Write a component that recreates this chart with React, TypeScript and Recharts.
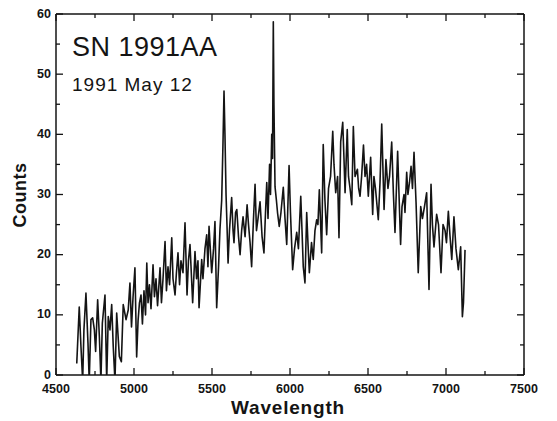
import { Line, LineChart, XAxis, YAxis } from 'recharts';

// Spectrum of SN 1991AA (wavelength in Å, counts).
// Dips that run below the axis in the original are kept slightly negative and clipped.
const wavelengths = [
  4633, 4649, 4660, 4671, 4679, 4692, 4705, 4713, 4724, 4735, 4746, 4754, 4767, 4778, 4788, 4797,
  4814, 4825, 4835, 4846, 4857, 4867, 4878, 4889, 4906, 4919, 4931, 4949, 4963, 4974, 4984, 4994,
  5006, 5017, 5026, 5035, 5045, 5054, 5064, 5074, 5082, 5090, 5099, 5109, 5122, 5131, 5141, 5151,
  5167, 5176, 5186, 5199, 5208, 5218, 5228, 5242, 5250, 5263, 5272, 5282, 5292, 5301, 5314, 5327,
  5340, 5349, 5359, 5376, 5391, 5401, 5410, 5417, 5434, 5442, 5455, 5466, 5474, 5481, 5498, 5510,
  5519, 5530, 5542, 5551, 5562, 5570, 5577, 5583, 5590, 5596, 5603, 5612, 5626, 5635, 5641, 5651,
  5659, 5670, 5680, 5690, 5699, 5712, 5725, 5734, 5744, 5754, 5766, 5776, 5785, 5795, 5808, 5821,
  5833, 5843, 5851, 5859, 5869, 5875, 5883, 5888, 5893, 5897, 5904, 5913, 5920, 5931, 5942, 5957,
  5968, 5979, 5994, 6003, 6017, 6029, 6043, 6054, 6069, 6077, 6085, 6096, 6107, 6115, 6124, 6138,
  6149, 6160, 6171, 6179, 6188, 6195, 6203, 6213, 6224, 6235, 6247, 6260, 6274, 6282, 6293, 6305,
  6314, 6325, 6338, 6346, 6353, 6367, 6375, 6385, 6396, 6406, 6417, 6432, 6440, 6449, 6459, 6471,
  6481, 6491, 6502, 6517, 6530, 6538, 6548, 6566, 6577, 6588, 6603, 6615, 6628, 6638, 6652, 6663,
  6673, 6690, 6709, 6718, 6731, 6737, 6748, 6756, 6766, 6776, 6785, 6795, 6808, 6822, 6838, 6849,
  6862, 6876, 6891, 6904, 6913, 6923, 6940, 6952, 6968, 6981, 6994, 7003, 7015, 7026, 7037, 7051,
  7064, 7079, 7094, 7105, 7112, 7122,
];

const counts = [
  1.9, 11.3, 4.7, -1, 7.5, 13.6, 5.3, -1, 9.2, 9.5, 7.5, 3.9, 12.5, 6.4, -1, 8.6,
  13.3, -1, 9.7, 7.5, 11.7, 4.7, -1, 10.3, 3.1, 2.2, 11.7, 9.2, 10.8, 15.3, 8, 13,
  17.8, 3, 9, 12, 13.3, 8.5, 14, 10, 18.6, 12, 15, 11, 18.3, 13, 16, 11.5,
  17.8, 12, 16, 22.2, 14, 18, 15, 22.8, 16, 13.3, 17, 20.3, 15, 19, 17, 25.3,
  13.3, 19, 21.7, 12, 20.5, 16, 19, 11.2, 19.2, 16, 21, 23.3, 18, 24.7, 17, 21,
  25.5, 11.2, 18, 24.2, 29, 38, 47.2, 40, 30, 25, 18.6, 24, 29.5, 24, 22, 27,
  27.5, 23, 20, 24, 26.3, 23, 28.3, 25, 22, 18, 26, 31.7, 24, 26, 28.8, 23,
  20.3, 27, 32, 26, 35, 30, 40, 36, 58.7, 45, 31.3, 29, 27, 24.7, 27, 31.2,
  26, 21.7, 34.8, 27, 17.5, 21, 23.7, 21, 29.7, 24, 18, 15.3, 27, 22, 17, 22,
  19.2, 24, 25.8, 25, 30.8, 26, 20.3, 38.3, 29, 23.3, 31, 33, 40.5, 35, 30.3, 33,
  22.8, 38.8, 42, 36, 30.3, 40.8, 33, 31, 28.3, 41.3, 33, 34.2, 31, 29.7, 33, 38.2,
  33, 35, 29.7, 36.2, 26.7, 33, 31, 25.8, 32, 41.7, 27.5, 35.8, 31, 33, 38.7, 30,
  23.7, 37.2, 21.7, 28, 30, 27, 33.7, 30, 32, 34.7, 31, 37, 28.7, 17, 28, 26,
  28, 30.3, 14.2, 31.7, 25, 21.3, 26.7, 25, 17, 25, 24, 22, 27.2, 23, 19.2, 26.3,
  21, 17.5, 21.3, 9.7, 12, 20.8,
];

const xTicks = [4500, 4750, 5000, 5250, 5500, 5750, 6000, 6250, 6500, 6750, 7000, 7250, 7500];
const yTicks = [0, 5, 10, 15, 20, 25, 30, 35, 40, 45, 50, 55, 60];

const INK = '#141414';
const FONT = '"Liberation Sans", Arial, sans-serif';
const MAJOR = 7;
const MINOR = 4;

const data = wavelengths.map((w, i) => ({ w, c: counts[i] }));

interface TickProps {
  x: number;
  y: number;
  payload: { value: number };
}

// tickSize and tickMargin are 0, so x/y arrive exactly on the axis line;
// ticks point into the plot like the original frame.
function BottomTick({ x, y, payload }: TickProps) {
  const major = payload.value % 500 === 0;
  return (
    <g>
      <line x1={x} x2={x} y1={y} y2={y - (major ? MAJOR : MINOR)} stroke={INK} strokeWidth={1.3} />
      {major && (
        <text x={x} y={y + 18} textAnchor="middle" fill={INK} fontFamily={FONT} fontWeight="bold" fontSize={12.5}>
          {payload.value}
        </text>
      )}
    </g>
  );
}

function TopTick({ x, y, payload }: TickProps) {
  const major = payload.value % 500 === 0;
  return <line x1={x} x2={x} y1={y} y2={y + (major ? MAJOR : MINOR)} stroke={INK} strokeWidth={1.3} />;
}

function LeftTick({ x, y, payload }: TickProps) {
  const major = payload.value % 10 === 0;
  return (
    <g>
      <line x1={x} x2={x + (major ? MAJOR : MINOR)} y1={y} y2={y} stroke={INK} strokeWidth={1.3} />
      {major && (
        <text x={x - 5} y={y + 3.5} textAnchor="end" fill={INK} fontFamily={FONT} fontWeight="bold" fontSize={12.5}>
          {payload.value}
        </text>
      )}
    </g>
  );
}

function RightTick({ x, y, payload }: TickProps) {
  const major = payload.value % 10 === 0;
  return <line x1={x} x2={x - (major ? MAJOR : MINOR)} y1={y} y2={y} stroke={INK} strokeWidth={1.3} />;
}

const axisLine = { stroke: INK, strokeWidth: 1.5 };

export default function App() {
  return (
    <div style={{ position: 'absolute', left: 0, top: 0, width: 557, height: 421, background: '#fff' }}>
      <LineChart width={557} height={421} data={data} margin={{ top: 13, right: 32, bottom: 45, left: 55 }}>
        <XAxis
          dataKey="w"
          type="number"
          domain={[4500, 7500]}
          ticks={xTicks}
          interval={0}
          height={1}
          tickSize={0}
          tickMargin={0}
          tickLine={false}
          axisLine={axisLine}
          tick={(p: any) => <BottomTick {...p} />}
        />
        <XAxis
          xAxisId="top"
          orientation="top"
          dataKey="w"
          type="number"
          domain={[4500, 7500]}
          ticks={xTicks}
          interval={0}
          height={1}
          tickSize={0}
          tickMargin={0}
          tickLine={false}
          axisLine={axisLine}
          tick={(p: any) => <TopTick {...p} />}
        />
        <YAxis
          type="number"
          domain={[0, 60]}
          allowDataOverflow
          ticks={yTicks}
          interval={0}
          width={1}
          tickSize={0}
          tickMargin={0}
          tickLine={false}
          axisLine={axisLine}
          tick={(p: any) => <LeftTick {...p} />}
        />
        <YAxis
          yAxisId="right"
          orientation="right"
          type="number"
          domain={[0, 60]}
          allowDataOverflow
          ticks={yTicks}
          interval={0}
          width={1}
          tickSize={0}
          tickMargin={0}
          tickLine={false}
          axisLine={axisLine}
          tick={(p: any) => <RightTick {...p} />}
        />
        <Line
          dataKey="c"
          type="linear"
          stroke={INK}
          strokeWidth={1.6}
          strokeLinejoin="round"
          dot={false}
          activeDot={false}
          isAnimationActive={false}
        />
      </LineChart>
      <svg
        width={557}
        height={421}
        style={{ position: 'absolute', left: 0, top: 0, pointerEvents: 'none' }}
        fontFamily={FONT}
        fill={INK}
      >
        <text x={72} y={56} fontSize={27} letterSpacing={0.5}>
          SN 1991AA
        </text>
        <text x={72} y={91} fontSize={19} letterSpacing={1}>
          1991 May 12
        </text>
        <text x={288} y={414} fontSize={19} fontWeight="bold" letterSpacing={0.8} textAnchor="middle">
          Wavelength
        </text>
        <text
          x={26}
          y={195}
          fontSize={18}
          fontWeight="bold"
          letterSpacing={0.5}
          textAnchor="middle"
          transform="rotate(-90 26 195)"
        >
          Counts
        </text>
      </svg>
    </div>
  );
}
